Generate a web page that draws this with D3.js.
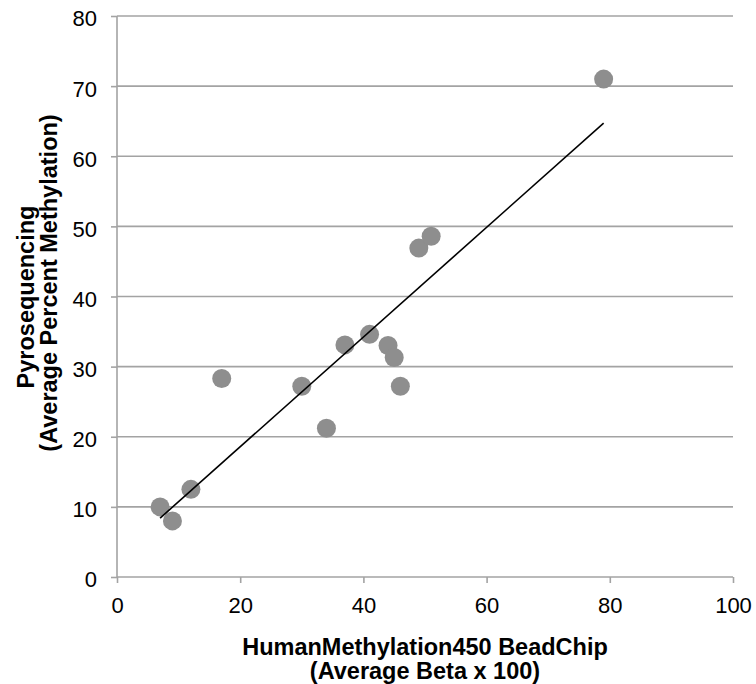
<!DOCTYPE html>
<html>
<head>
<meta charset="utf-8">
<script src="https://cdn.jsdelivr.net/npm/d3@7"></script>
<style>
  body { margin: 0; background: #fff; }
  text { font-family: "Liberation Sans", Arial, sans-serif; }
  .label { font-size: 23.5px; font-weight: bold; fill: #000; }
</style>
</head>
<body>
<svg class="chart"></svg>
<script>
// data
var beadchip = [7, 9, 12, 17, 30, 34, 37, 41, 44, 45, 46, 49, 51, 79];
var pyroseq = [10, 8, 12.5, 28.3, 27.2, 21.2, 33.1, 34.6, 33, 31.3, 27.2, 46.9, 48.6, 71];
var xTicks = [0, 20, 40, 60, 80, 100];
var yTicks = [0, 10, 20, 30, 40, 50, 60, 70, 80];

var margin = {top: 16, bottom: 107, left: 117, right: 23},
  width = 756 - margin.left - margin.right,
  height = 684 - margin.top - margin.bottom;

var svg = d3.select(".chart")
    .attr("width", width + margin.left + margin.right)
    .attr("height", height + margin.top + margin.bottom)
  .append("g")
    .attr("transform", "translate(" + margin.left + "," + margin.top + ")");

var x = d3.scaleLinear().domain([0, 100]).range([0, width]);
var y = d3.scaleLinear().domain([0, 80]).range([height, 0]);

var grid = "#a3a3a3";

// horizontal gridlines
svg.selectAll(".grid")
    .data(yTicks.slice(1))
  .enter().append("line")
    .attr("class", "grid")
    .attr("x1", 0)
    .attr("x2", width)
    .attr("y1", function(d) { return y(d); })
    .attr("y2", function(d) { return y(d); })
    .style("stroke", grid)
    .style("stroke-width", 1.6);

// y axis
svg.append("g")
    .attr("class", "y axis")
    .call(d3.axisLeft(y).tickValues(yTicks).tickSize(6).tickPadding(14));

// x axis
svg.append("g")
    .attr("class", "x axis")
    .attr("transform", "translate(0," + height + ")")
    .call(d3.axisBottom(x).tickValues(xTicks).tickSize(6).tickPadding(14));

svg.selectAll(".axis path, .axis line")
    .style("stroke", grid)
    .style("stroke-width", 1.6);
svg.selectAll(".axis .domain")
    .attr("d", function() { return d3.select(this.parentNode).classed("x") ?
        "M0,0H" + width : "M0," + height + "V0"; });
svg.selectAll(".axis text")
    .style("font-size", "22px")
    .style("font-family", "'Liberation Sans', Arial, sans-serif")
    .style("fill", "#000");
svg.selectAll(".y.axis text").attr("dy", "0.45em");

// points
var pts = beadchip.map(function(d, i) { return {x: d, y: pyroseq[i]}; });

svg.selectAll(".dot")
    .data(pts)
  .enter().append("circle")
    .attr("class", "dot")
    .attr("cx", function(d) { return x(d.x); })
    .attr("cy", function(d) { return y(d.y); })
    .attr("r", 9.5)
    .style("fill", "#8e8e8e");

// linear trendline (least squares)
var mx = d3.mean(beadchip), my = d3.mean(pyroseq);
var sxy = d3.sum(pts, function(d) { return (d.x - mx) * (d.y - my); });
var sxx = d3.sum(pts, function(d) { return (d.x - mx) * (d.x - mx); });
var slope = sxy / sxx, icept = my - slope * mx;
var ext = d3.extent(beadchip);

svg.append("line")
    .attr("x1", x(ext[0]))
    .attr("y1", y(icept + slope * ext[0]))
    .attr("x2", x(ext[1]))
    .attr("y2", y(icept + slope * ext[1]))
    .style("stroke", "#000")
    .style("stroke-width", 1.6);

// axis titles
svg.append("text")
    .attr("class", "label")
    .attr("x", width / 2)
    .attr("y", height + 78)
    .style("text-anchor", "middle")
    .text("HumanMethylation450 BeadChip");
svg.append("text")
    .attr("class", "label")
    .attr("x", width / 2)
    .attr("y", height + 102)
    .style("text-anchor", "middle")
    .text("(Average Beta x 100)");

svg.append("text")
    .attr("class", "label")
    .attr("transform", "rotate(-90)")
    .attr("x", -(297 - margin.top))
    .attr("y", -83)
    .style("text-anchor", "middle")
    .text("Pyrosequencing");
svg.append("text")
    .attr("class", "label")
    .attr("transform", "rotate(-90)")
    .attr("x", -(283 - margin.top))
    .attr("y", -60)
    .style("text-anchor", "middle")
    .text("(Average Percent Methylation)");
</script>
</body>
</html>
